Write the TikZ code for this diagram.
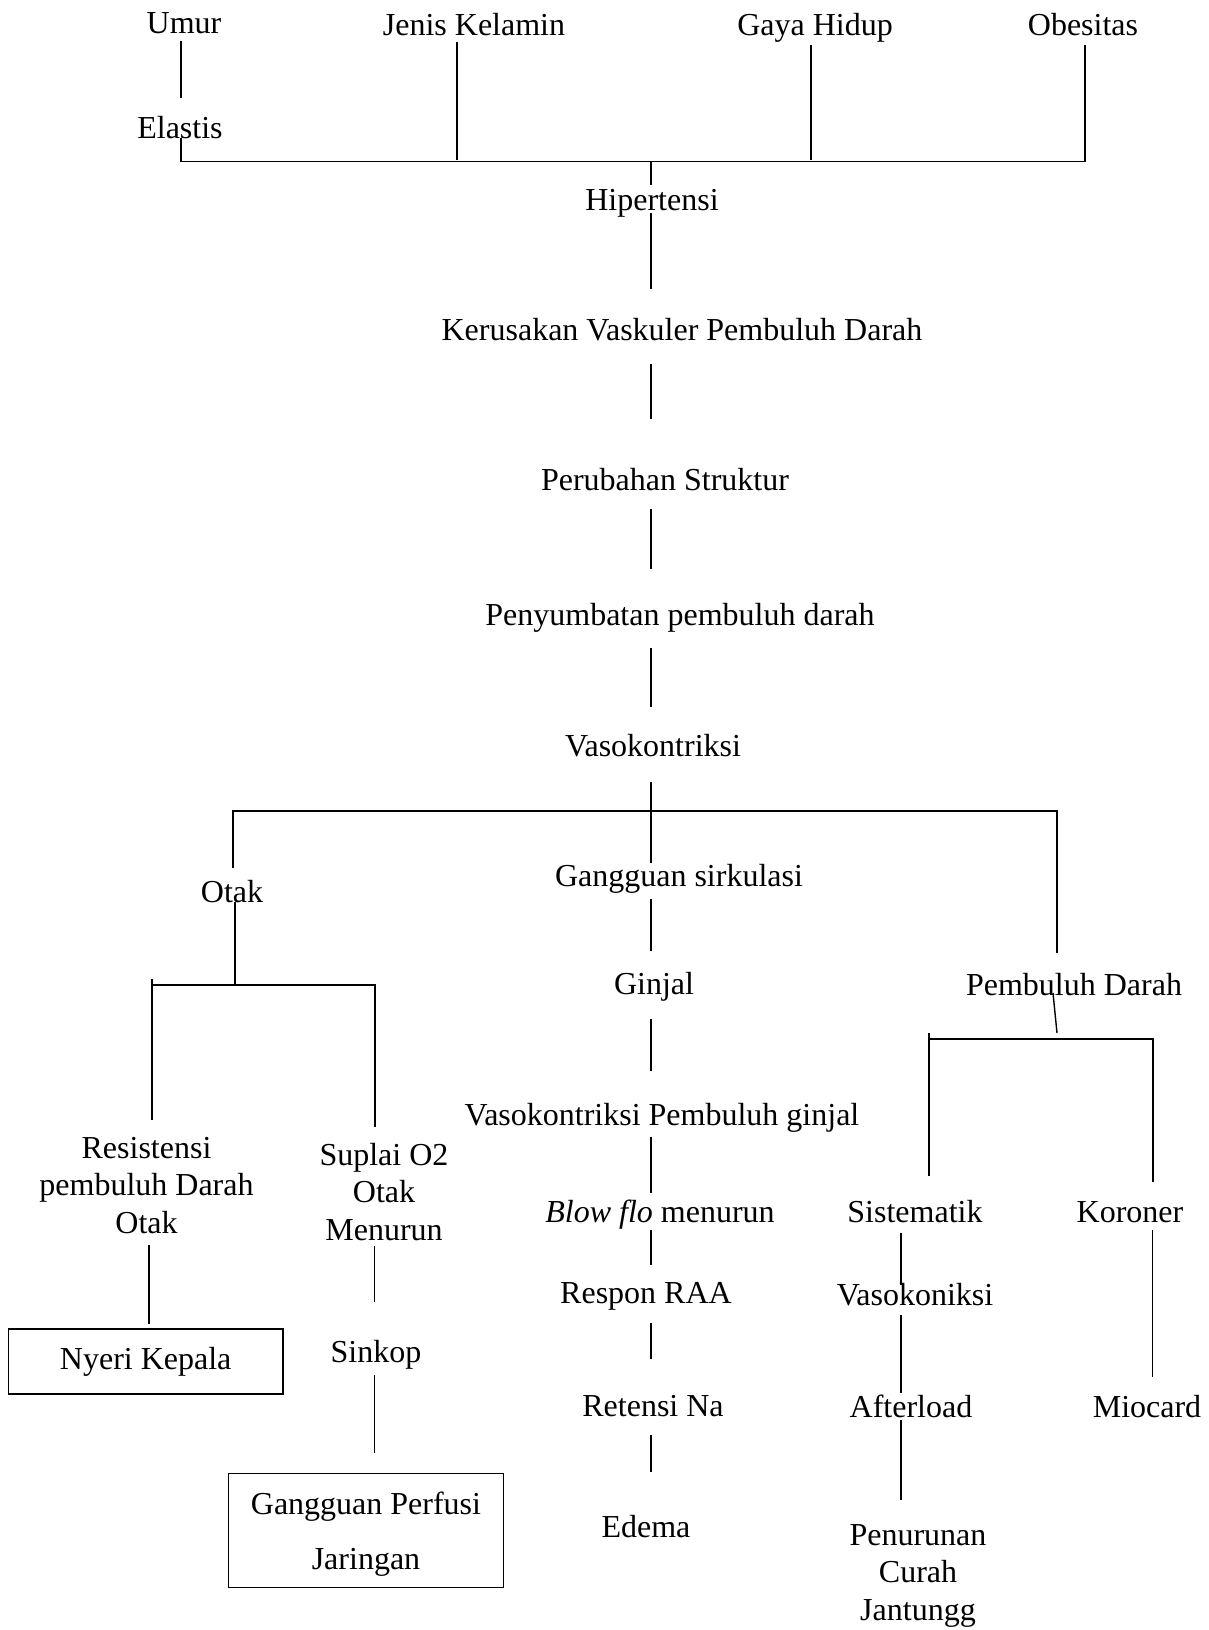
\documentclass[tikz,border=0pt]{standalone}
\usepackage{fontspec}
\setmainfont{Liberation Serif}
\begin{document}
\begin{tikzpicture}[x=1pt,y=-1pt,
  lbl/.style={font=\fontsize{32}{37.8}\selectfont, inner sep=0pt, anchor=base},
  boxnode/.style={draw, line width=1.1pt, inner sep=0pt, font=\fontsize{32}{37.8}\selectfont},
  conn/.style={line width=1.4pt}]
\useasboundingbox[fill=white] (0,0) rectangle (1208,1630);

% top row
\node[lbl] (umur) at (184,33) {Umur};
\node[lbl] (jenis) at (474,35) {Jenis Kelamin};
\node[lbl] (gaya) at (815,35) {Gaya Hidup};
\node[lbl] (obes) at (1083,35) {Obesitas};
\node[lbl] (elastis) at (180,138) {Elastis};
\node[lbl] (hiper) at (652,210) {Hipertensi};
\node[lbl] (kerus) at (682,340) {Kerusakan Vaskuler Pembuluh Darah};
\node[lbl] (perub) at (665,490) {Perubahan Struktur};
\node[lbl] (penyum) at (680,625) {Penyumbatan pembuluh darah};
\node[lbl] (vaso) at (653,756) {Vasokontriksi};

% middle level
\node[lbl] (otak) at (232,902) {Otak};
\node[lbl] (gang) at (679,886) {Gangguan sirkulasi};
\node[lbl] (pd) at (1074,995) {Pembuluh Darah};
\node[lbl] (ginjal) at (654,994) {Ginjal};
\node[lbl] (vpg) at (662,1125) {Vasokontriksi Pembuluh ginjal};
\node[lbl] (blow) at (660,1222) {\textit{Blow flo} menurun};
\node[lbl] (respon) at (646,1303) {Respon RAA};
\node[lbl] (retensi) at (653,1416) {Retensi Na};
\node[lbl] (edema) at (646,1537) {Edema};

% left branch
\node[lbl] (resist) at (146.5,1158) {\begin{tabular}[t]{@{}c@{}}Resistensi\\pembuluh Darah\\Otak\end{tabular}};
\node[lbl] (suplai) at (384,1165) {\begin{tabular}[t]{@{}c@{}}Suplai O2\\Otak\\Menurun\end{tabular}};
\node[boxnode, minimum width=274.6, minimum height=65] (nyeri) at (145.7,1361.5) {Nyeri Kepala};
\node[lbl] (sinkop) at (376,1362) {Sinkop};
\node[boxnode, minimum width=274.4, minimum height=114.4] (gpj) at (366,1530.5)
  {\fontsize{32}{55}\selectfont\begin{tabular}{@{}c@{}}Gangguan Perfusi\\Jaringan\end{tabular}};

% right branch
\node[lbl] (sist) at (915,1222) {Sistematik};
\node[lbl] (koron) at (1130,1222) {Koroner};
\node[lbl] (vasok) at (915,1305) {Vasokoniksi};
\node[lbl] (after) at (911,1417) {Afterload};
\node[lbl] (mioc) at (1147,1417) {Miocard};
\node[lbl] (penur) at (918,1545) {\begin{tabular}[t]{@{}c@{}}Penurunan\\Curah\\Jantungg\end{tabular}};

% connectors: top
\draw[conn] (umur.base) ++(-3,8) -- ++(0,57);
\draw[conn] (elastis.base) ++(1,0) -- ++(0,23.5) -- ++(904,0) -- ++(0,-116.5);
\draw[conn] (jenis.base) ++(-17,7) -- ++(0,118);
\draw[conn] (gaya.base) ++(-4,10) -- ++(0,115);
\draw[conn] (hiper.base) ++(-1,-48.5) -- ++(0,23.5);
\draw[conn] (hiper.base) ++(-1,3) -- ++(0,76);
\draw[conn] (kerus.base) ++(-31,24) -- ++(0,55);
\draw[conn] (perub.base) ++(-14,19) -- ++(0,60);
\draw[conn] (penyum.base) ++(-29,23) -- ++(0,59);
\draw[conn] (vaso.base) ++(-2,26) -- ++(0,81);
\draw[conn] (vaso.base) ++(-420,112) -- ++(0,-57) -- ++(824,0) -- ++(0,142);

% otak branch
\draw[conn] (otak.base) ++(3,0) -- ++(0,83);
\draw[conn] (otak.base) ++(-80,77) -- ++(0,141);
\draw[conn] (otak.base) ++(-80,83) -- ++(223,0) -- ++(0,142);
\draw[conn] (resist.base) ++(2.5,87) -- ++(0,79);
\draw[conn] (suplai.base) ++(-9.5,81) -- ++(0,56);
\draw[conn] (sinkop.base) ++(-1.5,13) -- ++(0,78);

% middle chain
\draw[conn] (gang.base) ++(-28,13) -- ++(0,52);
\draw[conn] (ginjal.base) ++(-3,25) -- ++(0,52);
\draw[conn] (vpg.base) ++(-11,12) -- ++(0,56);
\draw[conn] (blow.base) ++(-9,8) -- ++(0,35);
\draw[conn] (respon.base) ++(5,20) -- ++(0,36);
\draw[conn] (retensi.base) ++(-2,19) -- ++(0,37);

% pembuluh darah branch
\draw[conn] (pd.base) ++(-21,-2) -- ++(4,40);
\draw[conn] (pd.base) ++(-145,38) -- ++(0,143);
\draw[conn] (pd.base) ++(-145,44) -- ++(224,0) -- ++(0,143);
\draw[conn] (sist.base) ++(-14,11) -- ++(0,52);
\draw[conn] (vasok.base) ++(-14,10) -- ++(0,78);
\draw[conn] (after.base) ++(-10,3) -- ++(0,80);
\draw[conn] (koron.base) ++(22.5,8) -- ++(0,147);
\end{tikzpicture}
\end{document}
